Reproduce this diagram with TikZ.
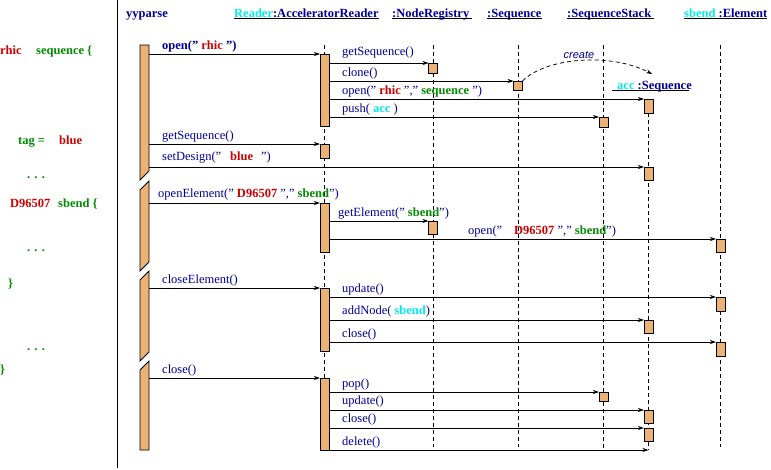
\documentclass[tikz,border=0pt]{standalone}
\usepackage{fontspec}
\setmainfont{Liberation Serif}
\newfontfamily\createfont{Liberation Sans}
\usepackage{xcolor}
\usepackage{tikz}
\usetikzlibrary{arrows.meta}
\definecolor{seqnavy}{RGB}{0,0,150}
\definecolor{seqred}{RGB}{204,0,0}
\definecolor{seqgreen}{RGB}{0,140,0}
\definecolor{seqcyan}{RGB}{0,235,235}
\definecolor{barfill}{RGB}{235,178,115}
\newcommand{\valred}[1]{\textbf{\color{seqred}#1}}
\newcommand{\valgreen}[1]{\textbf{\color{seqgreen}#1}}
\newcommand{\valcyan}[1]{\textbf{\color{seqcyan}#1}}

\begin{document}
\begin{tikzpicture}[x=1pt,y=1pt,yscale=-1,
  font=\fontsize{12.5}{14}\selectfont,
  act/.style={draw, line width=0.75pt, fill=barfill, minimum width=9pt, inner sep=0pt, outer sep=0pt, anchor=north west},
  life/.style={dash pattern=on 4pt off 3pt, line width=0.75pt},
  msg/.style={-{Stealth[length=6pt,width=4pt]}, line width=0.75pt},
  lbl/.style={anchor=base west, inner sep=0pt, text=seqnavy},
  hdr/.style={anchor=base west, inner sep=0pt, text=seqnavy, font=\fontsize{12.5}{14}\selectfont\bfseries},
  src/.style={anchor=base west, inner sep=0pt, font=\fontsize{12.5}{14}\selectfont\bfseries}]
\useasboundingbox (0,0) rectangle (771,469);

%Straight Lines [id:separator]
\draw [line width=0.75pt] (117,0) -- (117,468) ;

% Text Node: source text
\node [src, text=seqred] (lrhic) at (0,54) {rhic};
\node [src, text=seqgreen] (lseq) at (36,54) {sequence \{};
\node [src, text=seqgreen] (ltag) at (18,144) {tag =};
\node [src, text=seqred] (lblue) at (59,144) {blue};
\node [src, text=seqgreen] (ldotsa) at (27,178) {. . .};
\node [src, text=seqred] (ldnum) at (10,207) {D96507};
\node [src, text=seqgreen] (lsbend) at (58,207) {sbend \{};
\node [src, text=seqgreen] (ldotsb) at (27,251) {. . .};
\node [src, text=seqgreen] (lclosea) at (8,287) {\}};
\node [src, text=seqgreen] (ldotsc) at (27,350) {. . .};
\node [src, text=seqgreen] (lcloseb) at (0,373) {\}};

% Text Node: object headers
\node [hdr] (hyy) at (126,17) {yyparse};
\node [hdr] (hrd) at (234,17) {\textcolor{seqcyan}{Reader}:AcceleratorReader};
\node [hdr] (hnr) at (392,17) {:NodeRegistry};
\node [hdr] (hsq) at (487,17) {:Sequence};
\node [hdr] (hss) at (567,17) {:SequenceStack};
\node [hdr] (hel) at (684,17) {\textcolor{seqcyan}{sbend} :Element};
\node [hdr] (hac) at (617,89) {\textcolor{seqcyan}{acc} :Sequence};
\draw [line width=0.75pt] ([yshift=1.5pt]hrd.base west) -- ([yshift=1.5pt]hrd.base east) ;
\draw [line width=0.75pt] ([yshift=1.5pt]hnr.base west) -- ([yshift=1.5pt,xshift=3pt]hnr.base east) ;
\draw [line width=0.75pt] ([yshift=1.5pt]hsq.base west) -- ([yshift=1.5pt]hsq.base east) ;
\draw [line width=0.75pt] ([yshift=1.5pt]hss.base west) -- ([yshift=1.5pt,xshift=3pt]hss.base east) ;
\draw [line width=0.75pt] ([yshift=1.5pt]hel.base west) -- ([yshift=1.5pt]hel.base east) ;
\draw [line width=0.75pt] ([yshift=1.5pt,xshift=-5pt]hac.base west) -- ([yshift=1.5pt,xshift=-3pt]hac.base east) ;

%Straight Lines: lifelines
\draw [life] (324.5,45) -- (324.5,450) ;
\draw [life] (433,45) -- (433,447) ;
\draw [life] (518,45) -- (518,447) ;
\draw [life] (603.5,45) -- (603.5,450) ;
\draw [life] (648.5,113) -- (648.5,450) ;
\draw [life] (720.5,45) -- (720.5,447) ;

%Shape: Polygon [id:yyparse activation]
\draw [line width=0.75pt, fill=barfill] (140,45) -- (149,45) -- (149,171) -- (140,180) -- cycle ;
\draw [line width=0.75pt, fill=barfill] (140,190) -- (149,181) -- (149,262) -- (140,271) -- cycle ;
\draw [line width=0.75pt, fill=barfill] (140,280) -- (149,271) -- (149,352) -- (140,361) -- cycle ;
\draw [line width=0.75pt, fill=barfill] (140,370) -- (149,361) -- (149,450) -- (140,450) -- cycle ;
\coordinate (yy) at (149,0) ;

%Shape: Rectangle: activations
\node [act, minimum height=72pt] (rda) at (320,54) {};
\node [act, minimum height=14pt] (rdb) at (320,144) {};
\node [act, minimum height=49pt] (rdc) at (320,203) {};
\node [act, minimum height=63pt] (rdd) at (320,288) {};
\node [act, minimum height=72pt] (rde) at (320,378) {};
\node [act, minimum height=10pt] (nra) at (428.5,63) {};
\node [act, minimum height=13pt] (nrb) at (428.5,221) {};
\node [act, minimum height=9pt] (sqa) at (513.5,81) {};
\node [act, minimum height=10pt] (ssa) at (599,117) {};
\node [act, minimum height=9pt] (ssb) at (599,392) {};
\node [act, minimum height=14pt] (aca) at (644,99) {};
\node [act, minimum height=13pt] (acb) at (644,167) {};
\node [act, minimum height=13pt] (acc) at (644,320) {};
\node [act, minimum height=13pt] (acd) at (644,410) {};
\node [act, minimum height=13pt] (ace) at (644,428) {};
\node [act, minimum height=13pt] (ela) at (716,239) {};
\node [act, minimum height=14pt] (elb) at (716,297) {};
\node [act, minimum height=14pt] (elc) at (716,342) {};
\coordinate (accend) at (648.5,450) ;

%Curve Lines: create
\coordinate (crt) at (652,74) ;
\draw [life, -{Stealth[length=6pt,width=4pt]}] (sqa.north east) .. controls (545,58) and (610,52) .. (crt) ;
\node [font=\createfont\itshape\fontsize{11}{13}\selectfont, text=seqnavy] (crl) at (579,55) {create};

%Straight Lines: messages
\draw [msg] (yy |- rda.north west) -- (rda.north west) ;
\draw [msg] (rda.east |- nra.north west) -- (nra.north west) ;
\draw [msg] (rda.east |- sqa.north west) -- (sqa.north west) ;
\draw [msg] (rda.east |- aca.north west) -- (aca.north west) ;
\draw [msg] (rda.east |- ssa.north west) -- (ssa.north west) ;
\draw [msg] (yy |- rdb.north west) -- (rdb.north west) ;
\draw [msg] (yy |- acb.north west) -- (acb.north west) ;
\draw [msg] (yy |- rdc.north west) -- (rdc.north west) ;
\draw [msg] (rdc.east |- nrb.north west) -- (nrb.north west) ;
\draw [msg] (rdc.east |- ela.north west) -- (ela.north west) ;
\draw [msg] (yy |- rdd.north west) -- (rdd.north west) ;
\draw [msg] (rdd.east |- elb.north west) -- (elb.north west) ;
\draw [msg] (rdd.east |- acc.north west) -- (acc.north west) ;
\draw [msg] (rdd.east |- elc.north west) -- (elc.north west) ;
\draw [msg] (yy |- rde.north west) -- (rde.north west) ;
\draw [msg] (rde.east |- ssb.north west) -- (ssb.north west) ;
\draw [msg] (rde.east |- acd.north west) -- (acd.north west) ;
\draw [msg] (rde.east |- ace.north west) -- (ace.north west) ;
\draw [msg] (rde.east |- accend) -- (accend) ;

% Text Node: message labels
\node [lbl, font=\fontsize{12.5}{14}\selectfont\bfseries] (mopen) at (162,49) {open(" \valred{rhic} ")};
\node [lbl] (mgetseq) at (342,55.5) {getSequence()};
\node [lbl] (mclone) at (342,76) {clone()};
\node [lbl] (mopenseq) at (342,94) {open(" \valred{rhic} "," \valgreen{sequence} ")};
\node [lbl] (mpush) at (342,112) {push( \valcyan{acc} )};
\node [lbl] (mgetseqb) at (162,139.5) {getSequence()};
\node [lbl] (mdesign) at (162,160) {setDesign("\hspace{9pt}\valred{blue}\hspace{8pt}")};
\node [lbl] (mopenel) at (158,197) {openElement(" \valred{D96507} "," \valgreen{sbend}")};
\node [lbl] (mgetel) at (338,216) {getElement(" \valgreen{sbend}")};
\node [lbl] (mopenelb) at (468,234) {open("\hspace{12pt}\valred{D96507} "," \valgreen{sbend}")};
\node [lbl] (mcloseel) at (162,283) {closeElement()};
\node [lbl] (mupdate) at (342,292) {update()};
\node [lbl] (maddnode) at (342,314.5) {addNode( \valcyan{sbend})};
\node [lbl] (mclose) at (342,337) {close()};
\node [lbl] (mcloseb) at (162,373) {close()};
\node [lbl] (mpop) at (342,387) {pop()};
\node [lbl] (mupdateb) at (342,404.5) {update()};
\node [lbl] (mclosec) at (342,422.5) {close()};
\node [lbl] (mdelete) at (342,445) {delete()};

\end{tikzpicture}
\end{document}
